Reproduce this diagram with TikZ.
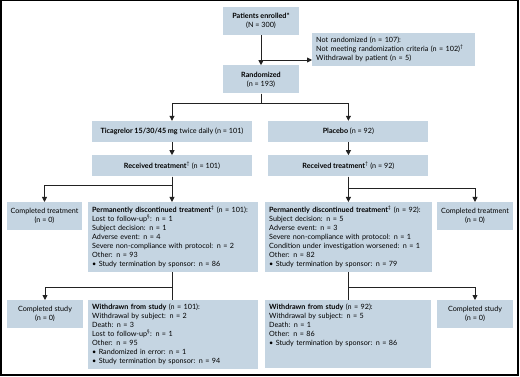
\documentclass[tikz,border=0pt]{standalone}
\usepackage{fontspec}
\setmainfont{Lato}
\usetikzlibrary{arrows.meta,positioning}
\definecolor{boxfill}{HTML}{C5D5E2}
\definecolor{linegray}{HTML}{222222}
\newcommand{\boxfont}{\fontsize{7.2}{9}\selectfont}
\tikzset{>={Triangle[width=5pt,length=5pt]}}
\tikzset{
  box/.style={fill=boxfill, inner sep=2pt, align=center, font=\boxfont},
  cbox/.style={box, minimum width=76pt, minimum height=28pt},
  wbox/.style={box, minimum width=160pt, minimum height=21pt},
  tbox/.style={box, align=left, anchor=north west, inner xsep=4pt, inner ysep=4pt},
  arrow/.style={->, line width=0.9pt, draw=linegray},
  line/.style={line width=0.9pt, draw=linegray},
}

\begin{document}
\begin{tikzpicture}[x=1pt, y=1pt]
    \useasboundingbox (0,0) rectangle (520,-377);
    \draw[line width=1.5pt] (0.75,-0.75) rectangle (518,-375);

    % enrolment
    \node[cbox] (enrol) at (261,-21)
    {\textbf{Patients enrolled*}\\(N = 300)};
    \node[cbox, below=30pt of enrol] (rand)
    {\textbf{Randomized}\\(n = 193)};
    \node[tbox, text width=155pt] (notrand) at (312,-33)
    {Not randomized (n = 107):\\
     Not meeting randomization criteria (n = 102)\textsuperscript{\textdagger}\\
     Withdrawal by patient (n = 5)};
    \coordinate (nrsplit) at (261,-60);

    \draw[arrow] (enrol) -- (rand);
    \draw[arrow] (nrsplit) -- (nrsplit -| notrand.west);

    % arms
    \node[wbox] (ticag) at (172,-131.5)
    {\textbf{Ticagrelor 15/30/45 mg} twice daily (n = 101)};
    \node[wbox, right=16pt of ticag] (placebo)
    {\textbf{Placebo} (n = 92)};
    \node[wbox, below=13pt of ticag] (recvL)
    {\textbf{Received treatment}\textsuperscript{\textdagger} (n = 101)};
    \node[wbox, below=13pt of placebo] (recvR)
    {\textbf{Received treatment}\textsuperscript{\textdagger} (n = 92)};

    \draw[arrow] (rand.south) -- ++(0,-10) -| (ticag.north);
    \draw[arrow] (rand.south) -- ++(0,-10) -| (placebo.north);
    \draw[arrow] (ticag) -- (recvL);
    \draw[arrow] (placebo) -- (recvR);

    % treatment
    \node[cbox, minimum width=75pt, anchor=north] (complTL) at (44.5,-202)
    {Completed treatment\\(n = 0)};
    \node[tbox, text width=162pt] (discL) at (88,-202)
    {\textbf{Permanently discontinued treatment}\textsuperscript{\textdaggerdbl} (n = 101):\\
     Lost to follow-up\textsuperscript{\S}: n = 1\\
     Subject decision: n = 1\\
     Adverse event: n = 4\\
     Severe non-compliance with protocol: n = 2\\
     Other: n = 93\\
     \textbullet\ Study termination by sponsor: n = 86};
    \node[tbox, text width=159pt] (discR) at (265,-202)
    {\textbf{Permanently discontinued treatment}\textsuperscript{\textdaggerdbl} (n = 92):\\
     Subject decision: n = 5\\
     Adverse event: n = 3\\
     Severe non-compliance with protocol: n = 1\\
     Condition under investigation worsened: n = 1\\
     Other: n = 82\\
     \textbullet\ Study termination by sponsor: n = 79};
    \node[cbox, anchor=north] (complTR) at (475,-202)
    {Completed treatment\\(n = 0)};

    \draw[arrow] (recvL.south) -- (recvL.south |- discL.north);
    \draw[arrow] (recvL.south) -- ++(0,-9) -| (complTL.north);
    \draw[arrow] (recvR.south) -- (recvR.south |- discR.north);
    \draw[arrow] (recvR.south) -- ++(0,-12) -| (complTR.north);

    % study
    \node[cbox, anchor=north] (complSL) at (45,-300)
    {Completed study\\(n = 0)};
    \node[tbox, text width=162pt] (wdL) at (88,-300)
    {\textbf{Withdrawn from study} (n = 101):\\
     Withdrawal by subject: n = 2\\
     Death: n = 3\\
     Lost to follow-up\textsuperscript{\S}: n = 1\\
     Other: n = 95\\
     \textbullet\ Randomized in error: n = 1\\
     \textbullet\ Study termination by sponsor: n = 94};
    \node[tbox, text width=158pt] (wdR) at (265,-300)
    {\textbf{Withdrawn from study} (n = 92):\\
     Withdrawal by subject: n = 5\\
     Death: n = 1\\
     Other: n = 86\\
     \textbullet\ Study termination by sponsor: n = 86\\
     ~\\
     ~};
    \node[cbox, anchor=north] (complSR) at (475,-300)
    {Completed study\\(n = 0)};

    \draw[line] (ticag.south |- discL.south) -- (ticag.south |- wdL.north);
    \draw[arrow] (ticag.south |- discL.south) -- ++(0,-15) -| (complSL.north);
    \draw[line] (placebo.south |- discR.south) -- (placebo.south |- wdR.north);
    \draw[arrow] (placebo.south |- discR.south) -- ++(0,-15) -| (complSR.north);
\end{tikzpicture}
\end{document}
